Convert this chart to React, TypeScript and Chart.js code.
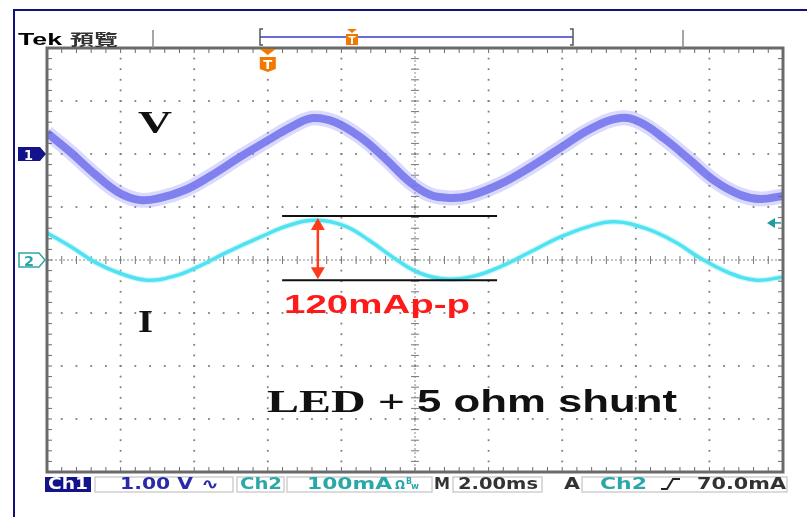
import React, { useEffect, useRef } from 'react';
import { Chart, registerables } from 'chart.js';
Chart.register(...registerables);

// ---- Oscilloscope settings ----
const timePerDivMs = 2;
const voltsPerDiv = 1;
const mAPerDiv = 100;
const ch1OffsetDiv = 2;
const ch2OffsetDiv = 0;
const divsX = 10;
const divsY = 8;
const triggerPosMs = 6.0;
const triggerLevelMa = 70;

// ---- Channel 1: voltage (V, relative to Ch1 ground) ----
const vTimeMs = [0.0, 0.63, 1.3, 1.93, 2.53, 3.07, 3.75, 4.43, 5.24, 6.06, 6.74, 7.23, 7.83, 8.51, 9.18, 9.86, 10.41, 10.95, 11.49, 12.31, 13.13, 13.94, 14.76, 15.57, 16.11, 16.79, 17.47, 18.15, 18.83, 19.38, 20.0];
const vVolts = [0.4, 0.04, -0.38, -0.72, -0.87, -0.83, -0.68, -0.42, -0.06, 0.28, 0.55, 0.68, 0.6, 0.32, -0.08, -0.53, -0.77, -0.83, -0.79, -0.57, -0.25, 0.11, 0.47, 0.68, 0.6, 0.28, -0.11, -0.51, -0.77, -0.85, -0.79];

// ---- Channel 2: current (mA) ----
const iTimeMs = [0.0, 0.63, 1.3, 1.98, 2.72, 3.48, 4.16, 4.84, 5.79, 6.6, 7.34, 8.1, 8.78, 9.51, 10.14, 10.87, 11.63, 12.31, 13.13, 13.94, 14.76, 15.43, 16.25, 17.07, 17.74, 18.56, 19.29, 20.0];
const iMilliAmps = [51, 26, -4, -25, -38, -30, -11, 13, 43, 66, 75, 64, 36, 0, -25, -36, -30, -13, 15, 43, 64, 72, 60, 34, 4, -25, -38, -32];

// ---- Peak-to-peak annotation (mA / ms) ----
const ppTopMa = 83;
const ppBottomMa = -38;
const ppStartMs = 6.39;
const ppEndMs = 12.23;
const ppArrowMs = 7.36;

const NAVY = '#14148a';
const TEAL = '#2aa8a8';
const ORANGE = '#f07a00';

function fitText(ctx: CanvasRenderingContext2D, text: string, x: number, baseline: number, width: number, font: string, color: string) {
  ctx.save();
  ctx.font = font;
  const w = ctx.measureText(text).width;
  ctx.translate(x, baseline);
  ctx.scale(width / w, 1);
  ctx.fillStyle = color;
  ctx.textAlign = 'left';
  ctx.textBaseline = 'alphabetic';
  ctx.fillText(text, 0, 0);
  ctx.restore();
}

function box(ctx: CanvasRenderingContext2D, x1: number, y1: number, x2: number, y2: number, fill: string | null, stroke: string | null) {
  if (fill) { ctx.fillStyle = fill; ctx.fillRect(x1, y1, x2 - x1, y2 - y1); }
  if (stroke) { ctx.strokeStyle = stroke; ctx.lineWidth = 1.5; ctx.strokeRect(x1, y1, x2 - x1, y2 - y1); }
}

const scopePlugin = {
  id: 'scope',
  beforeDatasetsDraw(chart: any) {
    const ctx: CanvasRenderingContext2D = chart.ctx;
    const { left, top, right, bottom } = chart.chartArea;
    const dx = (right - left) / divsX;
    const dy = (bottom - top) / divsY;
    ctx.save();
    ctx.strokeStyle = '#10107e';
    ctx.lineWidth = 2;
    ctx.beginPath();
    ctx.moveTo(14, 517); ctx.lineTo(14, 10); ctx.lineTo(807, 10);
    ctx.stroke();

    ctx.fillStyle = '#7e7e7e';
    for (let i = 1; i < divsX; i++) {
      if (i === divsX / 2) continue;
      const x = left + i * dx;
      for (let j = 1; j < divsY * 5; j++) {
        const y = top + (j * dy) / 5;
        ctx.fillRect(x - 0.9, y - 0.9, 1.8, 1.8);
      }
    }
    for (let j = 1; j < divsY; j++) {
      if (j === divsY / 2) continue;
      const y = top + j * dy;
      for (let i = 1; i < divsX * 5; i++) {
        const x = left + (i * dx) / 5;
        ctx.fillRect(x - 0.9, y - 0.9, 1.8, 1.8);
      }
    }
    const cx = left + (divsX / 2) * dx;
    const cy = top + (divsY / 2) * dy;
    ctx.strokeStyle = '#8a8a8a';
    ctx.lineWidth = 1;
    ctx.setLineDash([2, 2]);
    ctx.beginPath();
    ctx.moveTo(cx, top); ctx.lineTo(cx, bottom);
    ctx.moveTo(left, cy); ctx.lineTo(right, cy);
    ctx.stroke();
    ctx.setLineDash([]);
    ctx.strokeStyle = '#777';
    ctx.beginPath();
    for (let j = 1; j < divsY * 5; j++) {
      const y = top + (j * dy) / 5;
      ctx.moveTo(cx - 4, y); ctx.lineTo(cx + 4, y);
    }
    for (let i = 1; i < divsX * 5; i++) {
      const x = left + (i * dx) / 5;
      ctx.moveTo(x, cy - 4); ctx.lineTo(x, cy + 4);
    }
    ctx.stroke();
    ctx.restore();
  },
  afterDatasetsDraw(chart: any) {
    const ctx: CanvasRenderingContext2D = chart.ctx;
    const { left, top, right, bottom } = chart.chartArea;
    const dx = (right - left) / divsX;
    const dy = (bottom - top) / divsY;
    const xs = chart.scales.x;
    const yV = chart.scales.yV;
    const yI = chart.scales.yI;
    ctx.save();

    ctx.strokeStyle = '#6a6a6a';
    ctx.lineWidth = 3;
    ctx.strokeRect(left, top, right - left, bottom - top);
    ctx.lineWidth = 1;
    ctx.beginPath();
    for (let j = 1; j < divsY * 5; j++) {
      const y = top + (j * dy) / 5;
      ctx.moveTo(left, y); ctx.lineTo(left + 5, y);
      ctx.moveTo(right, y); ctx.lineTo(right - 5, y);
    }
    for (let i = 1; i < divsX * 5; i++) {
      const x = left + (i * dx) / 5;
      ctx.moveTo(x, top); ctx.lineTo(x, top + 5);
      ctx.moveTo(x, bottom); ctx.lineTo(x, bottom - 5);
    }
    ctx.stroke();

    fitText(ctx, 'Tek', 18, 45, 44, 'bold 16px "Liberation Sans"', '#000');
    fitText(ctx, '預覽', 70, 45, 48, 'bold 15px "Noto Sans CJK TC"', '#333');
    ctx.strokeStyle = '#888';
    ctx.lineWidth = 1.5;
    ctx.beginPath();
    ctx.moveTo(153, 30); ctx.lineTo(153, top);
    ctx.moveTo(683, 30); ctx.lineTo(683, top);
    ctx.stroke();
    ctx.strokeStyle = '#3a3acc';
    ctx.lineWidth = 1.5;
    ctx.beginPath();
    ctx.moveTo(260, 37); ctx.lineTo(573, 37);
    ctx.stroke();
    ctx.strokeStyle = '#555';
    ctx.lineWidth = 1.5;
    ctx.beginPath();
    ctx.moveTo(263, 29); ctx.lineTo(260, 29); ctx.lineTo(260, 45); ctx.lineTo(263, 45);
    ctx.moveTo(570, 29); ctx.lineTo(573, 29); ctx.lineTo(573, 45); ctx.lineTo(570, 45);
    ctx.stroke();
    ctx.fillStyle = ORANGE;
    ctx.beginPath();
    ctx.moveTo(347, 29); ctx.lineTo(357, 29); ctx.lineTo(352, 33); ctx.closePath(); ctx.fill();
    ctx.fillRect(346, 34, 12, 11);
    fitText(ctx, 'T', 348.5, 44, 7, 'bold 10px "DejaVu Sans"', '#fff');

    const tx = xs.getPixelForValue(triggerPosMs);
    ctx.fillStyle = ORANGE;
    ctx.beginPath();
    ctx.moveTo(tx - 8, top + 1); ctx.lineTo(tx + 8, top + 1); ctx.lineTo(tx, top + 7); ctx.closePath(); ctx.fill();
    ctx.beginPath();
    ctx.moveTo(tx - 8, top + 9); ctx.lineTo(tx + 8, top + 9); ctx.lineTo(tx + 8, top + 21);
    ctx.lineTo(tx, top + 24); ctx.lineTo(tx - 8, top + 21); ctx.closePath(); ctx.fill();
    fitText(ctx, 'T', tx - 4.5, top + 21, 9, 'bold 12px "DejaVu Sans"', '#fff');

    const g1 = yV.getPixelForValue(0);
    ctx.fillStyle = NAVY;
    ctx.beginPath();
    ctx.moveTo(18, g1 - 7); ctx.lineTo(40, g1 - 7); ctx.lineTo(46, g1); ctx.lineTo(40, g1 + 7); ctx.lineTo(18, g1 + 7); ctx.closePath();
    ctx.fill();
    fitText(ctx, '1', 24, g1 + 5.5, 9, 'bold 14px "DejaVu Sans"', '#fff');
    const g2 = yI.getPixelForValue(0);
    ctx.fillStyle = '#fff';
    ctx.strokeStyle = TEAL;
    ctx.lineWidth = 1.5;
    ctx.beginPath();
    ctx.moveTo(19, g2 - 7); ctx.lineTo(39, g2 - 7); ctx.lineTo(45, g2); ctx.lineTo(39, g2 + 7); ctx.lineTo(19, g2 + 7); ctx.closePath();
    ctx.fill(); ctx.stroke();
    fitText(ctx, '2', 24, g2 + 5.5, 10, 'bold 14px "DejaVu Sans"', TEAL);

    const tl = yI.getPixelForValue(triggerLevelMa);
    ctx.fillStyle = '#1e9c9c';
    ctx.beginPath();
    ctx.moveTo(right - 16, tl); ctx.lineTo(right - 8, tl - 5); ctx.lineTo(right - 8, tl + 5); ctx.closePath(); ctx.fill();
    ctx.strokeStyle = '#1e9c9c';
    ctx.lineWidth = 1.5;
    ctx.beginPath(); ctx.moveTo(right - 9, tl); ctx.lineTo(right - 2, tl); ctx.stroke();

    const pTop = yI.getPixelForValue(ppTopMa);
    const pBot = yI.getPixelForValue(ppBottomMa);
    const px1 = xs.getPixelForValue(ppStartMs);
    const px2 = xs.getPixelForValue(ppEndMs);
    const ax = xs.getPixelForValue(ppArrowMs);
    ctx.strokeStyle = '#111';
    ctx.lineWidth = 2;
    ctx.beginPath();
    ctx.moveTo(px1, pTop); ctx.lineTo(px2, pTop);
    ctx.moveTo(px1, pBot); ctx.lineTo(px2, pBot);
    ctx.stroke();
    ctx.strokeStyle = '#ff3a1a';
    ctx.fillStyle = '#ff3a1a';
    ctx.lineWidth = 2.5;
    ctx.beginPath(); ctx.moveTo(ax, pTop + 10); ctx.lineTo(ax, pBot - 10); ctx.stroke();
    ctx.beginPath(); ctx.moveTo(ax, pTop + 2); ctx.lineTo(ax - 7, pTop + 14); ctx.lineTo(ax + 7, pTop + 14); ctx.closePath(); ctx.fill();
    ctx.beginPath(); ctx.moveTo(ax, pBot - 1); ctx.lineTo(ax - 7, pBot - 13); ctx.lineTo(ax + 7, pBot - 13); ctx.closePath(); ctx.fill();

    fitText(ctx, 'V', 138, 133, 34, 'bold 32px "Liberation Serif"', '#111');
    fitText(ctx, 'I', 138, 332, 15, 'bold 31px "Liberation Serif"', '#111');
    fitText(ctx, '120mAp-p', 284, 313, 186, 'bold 26px "Liberation Sans"', '#ff1a1a');
    fitText(ctx, 'LED +', 267, 412, 138, 'bold 32px "Liberation Serif"', '#111');
    fitText(ctx, '5 ohm shunt', 417, 412, 260, 'bold 31px "Liberation Sans"', '#111');

    const sb1 = 477, sb2 = 492, base = 489;
    const sfont = 'bold 15px "DejaVu Sans"';
    box(ctx, 45, sb1, 91, sb2, NAVY, null);
    fitText(ctx, 'Ch1', 48, base, 40, sfont, '#fff');
    box(ctx, 95, sb1, 233, sb2, '#fff', '#cfcfcf');
    fitText(ctx, '1.00 V', 120, base, 73, sfont, '#2a2aa8');
    fitText(ctx, '∿', 201, base, 18, 'bold 15px "DejaVu Sans"', '#2a2aa8');
    box(ctx, 237, sb1, 284, sb2, '#fff', '#cfcfcf');
    fitText(ctx, 'Ch2', 240, base, 42, sfont, TEAL);
    box(ctx, 287, sb1, 432, sb2, '#fff', '#cfcfcf');
    fitText(ctx, '100mA', 307, base, 85, sfont, TEAL);
    fitText(ctx, 'Ω', 395, base, 10, 'bold 13px "DejaVu Sans"', TEAL);
    fitText(ctx, 'B', 406, base - 5, 6, 'bold 8px "DejaVu Sans"', TEAL);
    fitText(ctx, 'w', 411, base, 8, 'bold 9px "DejaVu Sans"', TEAL);
    fitText(ctx, 'M', 434, base, 16, sfont, '#333');
    box(ctx, 453, sb1, 542, sb2, '#fff', '#cfcfcf');
    fitText(ctx, '2.00ms', 458, base, 80, sfont, '#333');
    fitText(ctx, 'A', 564, base, 16, sfont, '#333');
    box(ctx, 582, sb1, 787, sb2, '#fff', '#cfcfcf');
    fitText(ctx, 'Ch2', 600, base, 47, sfont, TEAL);
    ctx.strokeStyle = '#222';
    ctx.lineWidth = 2;
    ctx.beginPath();
    ctx.moveTo(661, base); ctx.lineTo(667, base); ctx.lineTo(673, base - 10); ctx.lineTo(680, base - 10);
    ctx.stroke();
    fitText(ctx, '70.0mA', 697, base, 89, sfont, '#333');

    ctx.restore();
  },
};

export default function App() {
  const ref = useRef<HTMLCanvasElement | null>(null);
  useEffect(() => {
    if (!ref.current) return;
    const vPts = vTimeMs.map((t, k) => ({ x: t, y: vVolts[k] }));
    const iPts = iTimeMs.map((t, k) => ({ x: t, y: iMilliAmps[k] }));
    const common = { pointRadius: 0, tension: 0.4, fill: false };
    const chart = new Chart(ref.current, {
      type: 'line',
      data: {
        datasets: [
          { label: 'V halo', data: vPts, yAxisID: 'yV', borderColor: 'rgba(150,150,245,0.35)', borderWidth: 15, ...common },
          { label: 'V', data: vPts, yAxisID: 'yV', borderColor: 'rgba(98,98,232,0.88)', borderWidth: 8, ...common },
          { label: 'I halo', data: iPts, yAxisID: 'yI', borderColor: 'rgba(120,235,245,0.35)', borderWidth: 6, ...common },
          { label: 'I', data: iPts, yAxisID: 'yI', borderColor: 'rgb(60,222,238)', borderWidth: 3.5, ...common },
        ],
      },
      options: {
        responsive: false,
        devicePixelRatio: 1,
        animation: false,
        layout: { padding: { left: 47, top: 48, right: 24, bottom: 45 } },
        plugins: { legend: { display: false }, tooltip: { enabled: false } },
        scales: {
          x: { type: 'linear', display: false, min: 0, max: divsX * timePerDivMs },
          yV: { type: 'linear', display: false, min: (-divsY / 2 - ch1OffsetDiv) * voltsPerDiv, max: (divsY / 2 - ch1OffsetDiv) * voltsPerDiv },
          yI: { type: 'linear', display: false, min: (-divsY / 2 - ch2OffsetDiv) * mAPerDiv, max: (divsY / 2 - ch2OffsetDiv) * mAPerDiv },
        },
      },
      plugins: [scopePlugin],
    } as any);
    return () => chart.destroy();
  }, []);
  return (
    <div style={{ position: 'absolute', left: 0, top: 0, width: 807, height: 517, background: '#fff' }}>
      <canvas ref={ref} width={807} height={517} style={{ display: 'block' }} />
    </div>
  );
}
